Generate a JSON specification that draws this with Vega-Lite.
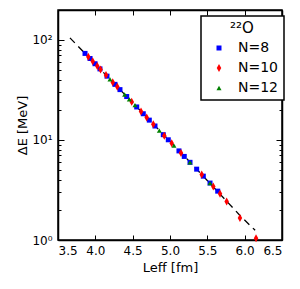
{
  "$schema": "https://vega.github.io/schema/vega-lite/v6.json",
  "width": 224,
  "height": 230,
  "autosize": "none",
  "padding": {"left": 58, "top": 10, "right": 18, "bottom": 49},
  "datasets": {
    "fit": [
      {"L": 3.66, "dE": 105},
      {"L": 5.27, "dE": 6.0},
      {"L": 5.94, "dE": 1.75},
      {"L": 6.14, "dE": 1.25}
    ],
    "points": [
      {"N": "N=8", "L": 3.862, "dE": 73.4},
      {"N": "N=8", "L": 3.929, "dE": 65.3},
      {"N": "N=8", "L": 3.996, "dE": 57.9},
      {"N": "N=8", "L": 4.062, "dE": 51.4},
      {"N": "N=8", "L": 4.156, "dE": 43.5},
      {"N": "N=8", "L": 4.263, "dE": 36.0},
      {"N": "N=8", "L": 4.330, "dE": 31.9},
      {"N": "N=8", "L": 4.420, "dE": 27.2},
      {"N": "N=8", "L": 4.554, "dE": 21.4},
      {"N": "N=8", "L": 4.642, "dE": 18.3},
      {"N": "N=8", "L": 4.723, "dE": 15.8},
      {"N": "N=8", "L": 4.799, "dE": 13.8},
      {"N": "N=8", "L": 4.910, "dE": 11.3},
      {"N": "N=8", "L": 4.977, "dE": 10.05},
      {"N": "N=8", "L": 5.120, "dE": 7.78},
      {"N": "N=8", "L": 5.191, "dE": 6.85},
      {"N": "N=8", "L": 5.268, "dE": 5.98},
      {"N": "N=8", "L": 5.357, "dE": 5.11},
      {"N": "N=8", "L": 5.446, "dE": 4.35},
      {"N": "N=8", "L": 5.536, "dE": 3.71},
      {"N": "N=8", "L": 5.639, "dE": 3.08},
      {"N": "N=10", "L": 3.906, "dE": 67.9},
      {"N": "N=10", "L": 3.965, "dE": 61.2},
      {"N": "N=10", "L": 4.026, "dE": 54.8},
      {"N": "N=10", "L": 4.070, "dE": 50.7},
      {"N": "N=10", "L": 4.143, "dE": 44.6},
      {"N": "N=10", "L": 4.233, "dE": 37.9},
      {"N": "N=10", "L": 4.294, "dE": 34.0},
      {"N": "N=10", "L": 4.487, "dE": 24.1},
      {"N": "N=10", "L": 4.612, "dE": 19.3},
      {"N": "N=10", "L": 4.688, "dE": 16.8},
      {"N": "N=10", "L": 4.776, "dE": 14.4},
      {"N": "N=10", "L": 4.924, "dE": 11.0},
      {"N": "N=10", "L": 5.023, "dE": 9.27},
      {"N": "N=10", "L": 5.147, "dE": 7.43},
      {"N": "N=10", "L": 5.425, "dE": 4.52},
      {"N": "N=10", "L": 5.580, "dE": 3.43},
      {"N": "N=10", "L": 5.670, "dE": 2.90},
      {"N": "N=10", "L": 5.759, "dE": 2.42},
      {"N": "N=10", "L": 5.937, "dE": 1.66},
      {"N": "N=10", "L": 6.152, "dE": 1.04},
      {"N": "N=12", "L": 4.196, "dE": 40.5},
      {"N": "N=12", "L": 4.393, "dE": 28.5},
      {"N": "N=12", "L": 4.455, "dE": 25.5},
      {"N": "N=12", "L": 4.531, "dE": 22.3},
      {"N": "N=12", "L": 4.857, "dE": 12.4},
      {"N": "N=12", "L": 5.053, "dE": 8.77},
      {"N": "N=12", "L": 5.268, "dE": 5.98},
      {"N": "N=12", "L": 5.536, "dE": 3.71}
    ]
  },
  "layer": [
    {
      "data": {"name": "fit"},
      "mark": {"type": "line", "color": "black", "strokeDash": [7, 5], "strokeWidth": 1.3},
      "encoding": {
        "x": {
          "field": "L", "type": "quantitative",
          "scale": {"domain": [3.5, 6.5], "nice": false, "zero": false},
          "axis": {"orient": "top", "labels": false, "title": null,
                   "values": [3.5, 4, 4.5, 5, 5.5, 6, 6.5], "tickSize": -5}
        },
        "y": {
          "field": "dE", "type": "quantitative",
          "scale": {"type": "log", "domain": [1, 199.5], "nice": false},
          "axis": {"orient": "right", "labels": false, "title": null,
                   "values": [1, 2, 3, 4, 5, 6, 7, 8, 9, 10, 20, 30, 40, 50, 60, 70, 80, 90, 100],
                   "tickSize": {"condition": {"test": "datum.value == 1 || datum.value == 10 || datum.value == 100", "value": -6}, "value": -3}}
        }
      }
    },
    {
      "data": {"name": "points"},
      "mark": {"type": "point", "filled": true, "opacity": 1, "strokeWidth": 0},
      "encoding": {
        "x": {
          "field": "L", "type": "quantitative",
          "scale": {"domain": [3.5, 6.5], "nice": false, "zero": false},
          "axis": {"orient": "bottom", "title": "Leff [fm]", "format": ".1f",
                   "values": [3.5, 4, 4.5, 5, 5.5, 6, 6.5], "tickSize": -5,
                   "labelPadding": 10, "titlePadding": 5}
        },
        "y": {
          "field": "dE", "type": "quantitative",
          "scale": {"type": "log", "domain": [1, 199.5], "nice": false},
          "axis": {"orient": "left", "title": "ΔE [MeV]",
                   "values": [1, 2, 3, 4, 5, 6, 7, 8, 9, 10, 20, 30, 40, 50, 60, 70, 80, 90, 100],
                   "labelExpr": "datum.value == 1 ? '10⁰' : datum.value == 10 ? '10¹' : datum.value == 100 ? '10²' : ''",
                   "tickSize": {"condition": {"test": "datum.value == 1 || datum.value == 10 || datum.value == 100", "value": -6}, "value": -3},
                   "labelPadding": 12, "titlePadding": 2}
        },
        "color": {
          "field": "N", "type": "nominal", "title": "²²O",
          "scale": {"domain": ["N=8", "N=10", "N=12"], "range": ["#0000ff", "#ff0000", "#008000"]}
        },
        "shape": {
          "field": "N", "type": "nominal", "title": "²²O",
          "scale": {"domain": ["N=8", "N=10", "N=12"], "range": ["square", "M0,-1.6L0.9,0L0,1.6L-0.9,0Z", "triangle-up"]}
        },
        "size": {"value": 25}
      }
    }
  ],
  "resolve": {"axis": {"x": "independent", "y": "independent"}},
  "config": {
    "font": "DejaVu Sans",
    "background": "white",
    "view": {"stroke": "black", "strokeWidth": 1.5},
    "axis": {
      "domainColor": "black", "domainWidth": 1.5,
      "tickColor": "black", "tickWidth": 1,
      "labelColor": "black", "titleColor": "black",
      "grid": false, "labelFontSize": 12, "titleFontSize": 13,
      "titleFontWeight": "normal"
    },
    "legend": {
      "orient": "none", "legendX": 143, "legendY": 6,
      "strokeColor": "black", "fillColor": "white", "strokeWidth": 1.5,
      "padding": 5, "symbolOffset": 6, "labelOffset": 12,
      "titleFontSize": 15, "titleFontWeight": "normal", "titleAnchor": "middle",
      "titleColor": "black", "titlePadding": 5,
      "labelFontSize": 14, "labelColor": "black", "rowPadding": 6,
      "symbolSize": 25, "symbolStrokeWidth": 0
    }
  }
}
